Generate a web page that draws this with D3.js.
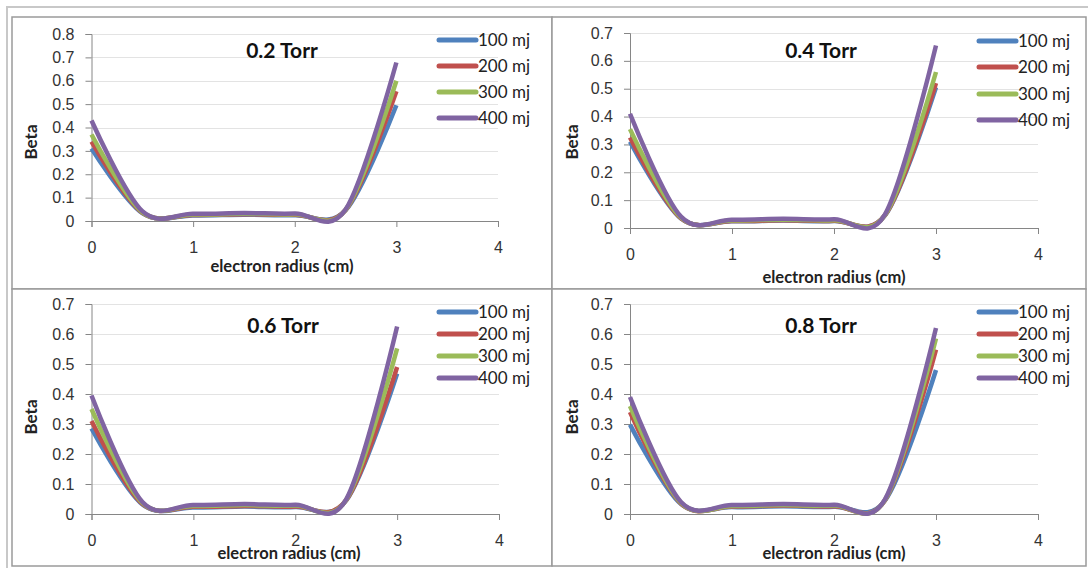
<!DOCTYPE html>
<meta charset="utf-8">
<style>
body { margin: 0; background: #fff; }
svg { font-family: Lato, "Open Sans", sans-serif; }
.axis path.domain, .axis line { stroke: #868686; }
.axis text { fill: #333; font-size: 16px; }
.grid line { stroke: #e3e3e3; }
.series { fill: none; stroke-width: 4.5px; stroke-linejoin: round; }
</style>
<body>
<div id="chart"></div>
<script src="https://d3js.org/d3.v7.min.js"></script>
<script>

// radius values (cm) where beta was sampled
var radius = [0, 0.5, 1, 1.5, 2, 2.5, 3];
var energies = ["100 mj", "200 mj", "300 mj", "400 mj"];
var colors = ["#4f81bd", "#c0504d", "#9bbb59", "#8064a2"];
var pressures = ["0.2 Torr", "0.4 Torr", "0.6 Torr", "0.8 Torr"];
var xTicks = [0, 1, 2, 3, 4];

// beta per energy, one array per pressure
var beta02 = [
  [0.31, 0.034, 0.024, 0.027, 0.025, 0.046, 0.495],
  [0.34, 0.036, 0.026, 0.029, 0.027, 0.047, 0.555],
  [0.37, 0.038, 0.028, 0.031, 0.029, 0.048, 0.60],
  [0.43, 0.042, 0.031, 0.034, 0.032, 0.049, 0.678]
];
var beta04 = [
  [0.31, 0.034, 0.024, 0.027, 0.025, 0.045, 0.505],
  [0.325, 0.035, 0.025, 0.028, 0.026, 0.046, 0.52],
  [0.355, 0.037, 0.027, 0.030, 0.028, 0.047, 0.56],
  [0.41, 0.041, 0.030, 0.033, 0.031, 0.049, 0.655]
];
var beta06 = [
  [0.285, 0.032, 0.022, 0.025, 0.023, 0.045, 0.468],
  [0.31, 0.034, 0.024, 0.027, 0.025, 0.046, 0.49],
  [0.35, 0.037, 0.027, 0.030, 0.028, 0.047, 0.552],
  [0.395, 0.040, 0.030, 0.033, 0.031, 0.049, 0.625]
];
var beta08 = [
  [0.298, 0.033, 0.023, 0.026, 0.024, 0.045, 0.48],
  [0.34, 0.035, 0.025, 0.028, 0.026, 0.046, 0.548],
  [0.36, 0.037, 0.027, 0.030, 0.028, 0.047, 0.585],
  [0.39, 0.040, 0.030, 0.033, 0.031, 0.049, 0.62]
];
var yMaxes = [0.8, 0.7, 0.7, 0.7];

// panel geometry (frame, plot area, text anchors)
var panels = [
  {data: beta02, box: [12, 17, 540, 272], x: [91.5, 498], y: [221, 34], legX: 437, legY: [40, 66, 92, 118], title: [282, 58], beta: [37, 142], xl: [282, 272]},
  {data: beta04, box: [552, 17, 534, 272], x: [630, 1038], y: [228, 33], legX: 977, legY: [41, 67, 94, 120], title: [821, 58], beta: [578, 142], xl: [834, 283]},
  {data: beta06, box: [12, 289, 540, 277], x: [91.5, 499], y: [514, 304], legX: 437, legY: [312, 334, 356, 378], title: [283, 333], beta: [37, 417], xl: [289, 559]},
  {data: beta08, box: [552, 289, 534, 277], x: [630, 1038], y: [514, 304], legX: 977, legY: [312, 334, 356, 378], title: [821, 333], beta: [578, 417], xl: [834, 559]}
];

var svg = d3.select("#chart").append("svg")
    .attr("width", 1088)
    .attr("height", 568);

// outer frame
svg.append("rect")
    .attr("x", 7).attr("y", 7).attr("width", 1090).attr("height", 570)
    .attr("fill", "none").attr("stroke", "#c8c8c8").attr("stroke-width", 2);

panels.forEach(function(p, k) {
  var g = svg.append("g");

  g.append("rect")
      .attr("x", p.box[0]).attr("y", p.box[1])
      .attr("width", p.box[2]).attr("height", p.box[3])
      .attr("fill", "#fff").attr("stroke", "#9a9a9a").attr("stroke-width", 1.5);

  var x = d3.scaleLinear().domain([0, 4]).range(p.x);
  var y = d3.scaleLinear().domain([0, yMaxes[k]]).range(p.y);
  var yTicks = d3.range(0, yMaxes[k] + 0.001, 0.1);

  // gridlines
  g.append("g").attr("class", "grid")
    .selectAll("line").data(yTicks.slice(1)).join("line")
      .attr("x1", p.x[0]).attr("x2", p.x[1])
      .attr("y1", function(d) { return Math.round(y(d)) + 0.5; })
      .attr("y2", function(d) { return Math.round(y(d)) + 0.5; });

  // axes
  g.append("g").attr("class", "axis")
      .attr("transform", "translate(" + p.x[0] + ",0)")
      .call(d3.axisLeft(y).tickValues(yTicks).tickSize(6).tickPadding(11)
        .tickFormat(function(d) { return d === 0 ? "0" : d3.format(".1f")(d); }));

  g.append("g").attr("class", "axis")
      .attr("transform", "translate(0," + p.y[0] + ")")
      .call(d3.axisBottom(x).tickValues(xTicks).tickSize(6).tickPadding(15)
        .tickFormat(d3.format("d")));

  // series, purple last so it sits on top
  var line = d3.line()
      .x(function(d, i) { return x(radius[i]); })
      .y(function(d) { return y(d); })
      .curve(d3.curveCardinal.tension(0));

  g.selectAll(".series").data(p.data).join("path")
      .attr("class", "series")
      .attr("stroke", function(d, i) { return colors[i]; })
      .attr("d", line);

  // title
  g.append("text")
      .attr("x", p.title[0]).attr("y", p.title[1])
      .attr("text-anchor", "middle")
      .attr("font-size", 21).attr("font-weight", "bold").attr("fill", "#111")
      .text(pressures[k]);

  // axis titles
  g.append("text")
      .attr("transform", "translate(" + p.beta[0] + "," + p.beta[1] + ") rotate(-90)")
      .attr("text-anchor", "middle")
      .attr("font-size", 17).attr("font-weight", "bold").attr("fill", "#222")
      .text("Beta");

  g.append("text")
      .attr("x", p.xl[0]).attr("y", p.xl[1])
      .attr("text-anchor", "middle")
      .attr("font-size", 16.5).attr("font-weight", "bold").attr("fill", "#222")
      .text("electron radius (cm)");

  // legend
  var leg = g.selectAll(".leg").data(energies).join("g")
      .attr("transform", function(d, i) { return "translate(" + p.legX + "," + p.legY[i] + ")"; });
  leg.append("line")
      .attr("x1", 2).attr("x2", 39)
      .attr("stroke", function(d, i) { return colors[i]; })
      .attr("stroke-width", 5).attr("stroke-linecap", "round");
  leg.append("text")
      .attr("x", 41).attr("y", 6)
      .attr("font-size", 17).attr("fill", "#222")
      .text(function(d) { return d; });
});

</script>
</body>
